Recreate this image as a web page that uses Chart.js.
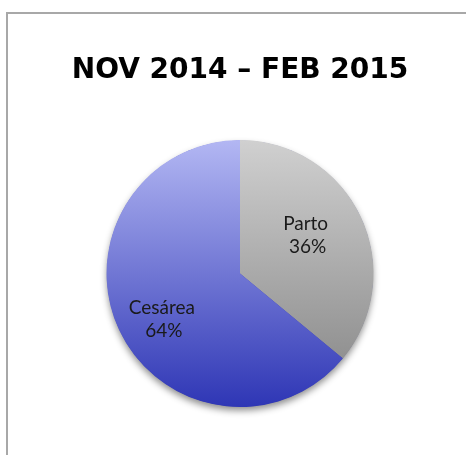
<!DOCTYPE html>
<html>
<head>
<meta charset="utf-8">
<script src="https://cdn.jsdelivr.net/npm/chart.js@4.4.0/dist/chart.umd.min.js"></script>
<style>
  html, body { margin: 0; padding: 0; background: #fff; }
  #wrap { position: relative; width: 466px; height: 455px; overflow: hidden; }
  #frame { position: absolute; left: 6px; top: 12px; width: 480px; height: 480px; border: 2px solid #a8a8a8; box-sizing: border-box; }
  #pie { position: absolute; left: 0; top: 0; }
</style>
</head>
<body>
<div id="wrap">
  <div id="frame"></div>
  <canvas id="pie" width="466" height="455"></canvas>
</div>
<script>
const titleText = 'NOV 2014 – FEB 2015';
const labels = ['Parto', 'Cesárea'];
const values = [36, 64];
const gradTop = ['#d0d0d0', '#b3b7f3'];
const gradBottom = ['#838383', '#2e36b5'];

function sliceColor(context) {
    const chart = context.chart;
    const area = chart.chartArea;
    const i = context.dataIndex;
    if (!area) return gradBottom[i];
    const g = chart.ctx.createLinearGradient(0, area.top, 0, area.bottom);
    g.addColorStop(0, gradTop[i]);
    g.addColorStop(1, gradBottom[i]);
    return g;
}

// soft shadow under the whole pie
const pieShadow = {
    id: 'pieShadow',
    beforeDatasetsDraw(chart) {
        const arc = chart.getDatasetMeta(0).data[0];
        if (!arc) return;
        const ctx = chart.ctx;
        ctx.save();
        ctx.shadowColor = 'rgba(0,0,0,0.45)';
        ctx.shadowBlur = 7;
        ctx.shadowOffsetY = 4;
        ctx.fillStyle = '#3a40b8';
        ctx.beginPath();
        ctx.arc(arc.x, arc.y, arc.outerRadius - 0.5, 0, Math.PI * 2);
        ctx.fill();
        ctx.restore();
    }
};

// category + percent inside each slice
const sliceLabels = {
    id: 'sliceLabels',
    afterDatasetsDraw(chart) {
        const ctx = chart.ctx;
        const total = values.reduce((a, b) => a + b, 0);
        chart.getDatasetMeta(0).data.forEach((arc, i) => {
            const mid = (arc.startAngle + arc.endAngle) / 2;
            const r = arc.outerRadius * (i === 0 ? 0.56 : 0.63);
            const x = arc.x + Math.cos(mid) * r;
            const y = arc.y + Math.sin(mid) * r + (i === 0 ? -7 : 10);
            ctx.save();
            ctx.fillStyle = '#1a1a1a';
            ctx.font = '19px Lato';
            ctx.textAlign = 'center';
            ctx.textBaseline = 'middle';
            ctx.fillText(labels[i], x - 2, y - 11);
            ctx.fillText(Math.round(values[i] / total * 100) + '%', x, y + 12);
            ctx.restore();
        });
    }
};

const ctx = document.getElementById('pie').getContext('2d');
new Chart(ctx, {
    type: 'pie',
    data: {
        labels: labels,
        datasets: [{
            data: values,
            backgroundColor: sliceColor,
            borderWidth: 0
        }]
    },
    options: {
        responsive: false,
        animation: false,
        layout: { padding: { left: 14, right: 0, top: 0, bottom: 48 } },
        plugins: {
            legend: { display: false },
            tooltip: { enabled: false },
            title: {
                display: true,
                text: titleText,
                color: '#000',
                font: { family: 'DejaVu Sans', weight: 'bold', size: 28, lineHeight: 1.2 },
                padding: { top: 54, bottom: 52.4 }
            }
        }
    },
    plugins: [pieShadow, sliceLabels]
});
</script>
</body>
</html>
